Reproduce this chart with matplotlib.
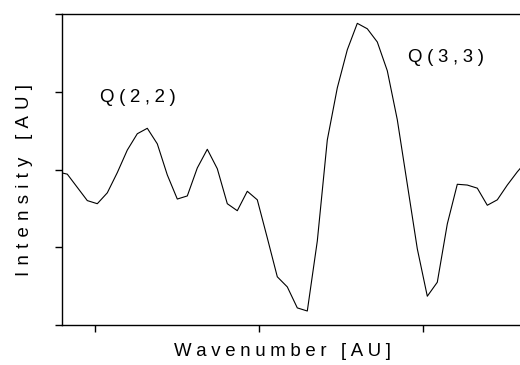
import matplotlib
matplotlib.use("Agg")
import matplotlib.pyplot as plt
import numpy as np

plt.rcParams['font.family'] = ['Liberation Sans', 'DejaVu Sans']

# intensity, one value per sample (equally spaced in wavenumber)
intensity = [1.97, 1.94, 1.77, 1.60, 1.56, 1.70, 1.96, 2.25, 2.46, 2.53,
             2.33, 1.93, 1.62, 1.66, 2.02, 2.26, 2.01, 1.56, 1.47, 1.72,
             1.61, 1.12, 0.62, 0.49, 0.22, 0.18, 1.08, 2.38, 3.05, 3.54,
             3.88, 3.81, 3.64, 3.27, 2.64, 1.81, 0.98, 0.37, 0.55, 1.30,
             1.81, 1.80, 1.76, 1.54, 1.61, 1.80, 1.97, 2.12]
wavenumber = np.arange(len(intensity))
x_ticks = [3.77, 20.17, 36.57]
y_ticks = [0, 1, 2, 3, 4]
peak_labels = ["Q(2,2)", "Q(3,3)"]
peak_pos = [(4.27, 2.93), (35.07, 3.44)]


def spaced(s, gap="\u2005"):
    # the original uses wide letter spacing
    return gap.join(s)


fig = plt.figure(figsize=(5.2, 3.65), dpi=100)
ax = fig.add_axes([62/520, 40/365, 470/520, 311/365])

ax.plot(wavenumber, intensity, color='black', lw=0.8)

ax.set_xlim(0.47, 0.47 + 47.0)
ax.set_ylim(0, 4)
ax.set_xticks(x_ticks)
ax.set_yticks(y_ticks)
ax.set_xticklabels([])
ax.set_yticklabels([])
ax.tick_params(direction='out', length=5, width=1, color='black')
for s in ax.spines.values():
    s.set_linewidth(1.0)

for lab, (px, py) in zip(peak_labels, peak_pos):
    ax.text(px, py, spaced(lab), fontsize=13.4, ha='left', va='center')

ax.set_xlabel(spaced("Wavenumber [AU]"), fontsize=13.4)
ax.xaxis.set_label_coords((282 - 62) / 470, -0.058)
ax.set_ylabel(spaced("Intensity [AU]", "\u2004"), fontsize=13.4)
ax.yaxis.set_label_coords(-0.062, 0.466)

fig.savefig("out.png", dpi=100)
